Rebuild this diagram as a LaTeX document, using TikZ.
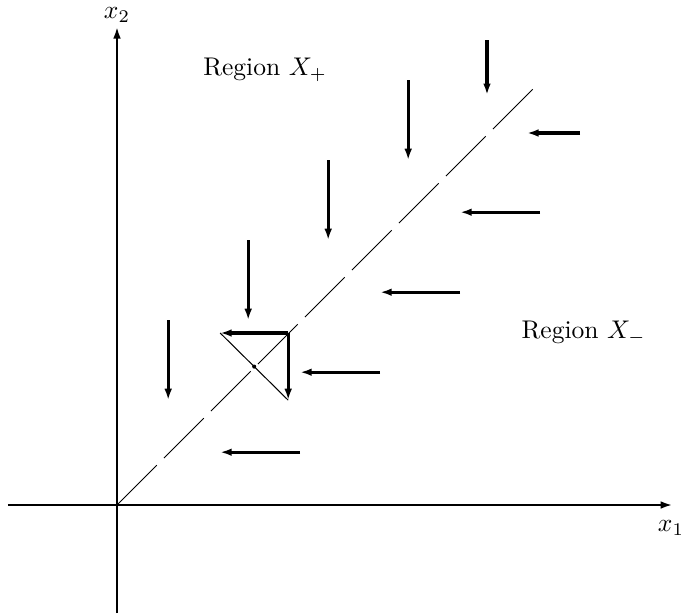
\documentclass[tikz,border=0pt]{standalone}
\usepackage{amsmath,amssymb}
\usepackage{tikz}
\usetikzlibrary{positioning,arrows.meta,calc}

\begin{document}
\begin{tikzpicture}[
  x=1.1cm,y=1.1cm,
  >={Latex[length=4.5pt,width=3pt]},
  axis/.style={->,line width=0.8pt},
  field/.style={->,line width=1.2pt},
  diag/.style={line width=0.4pt,dash pattern=on 22pt off 4pt},
  thin line/.style={line width=0.4pt},
  lab/.style={font=\normalsize,inner sep=1pt}
]
\useasboundingbox (-1.4625,-1.35) rectangle (7.0875,6.3125);

% AXES
\coordinate (O) at (0,0);
\coordinate (xl) at (-1.3625,0);
\coordinate (xr) at (6.94,0);
\coordinate (yb) at (0,-1.35);
\coordinate (yt) at (0,5.975);
\draw[axis] (xl) -- (xr);
\draw[axis] (yb) -- (yt);
\node[lab] (xone) at (6.925,-0.29) {$x_1$};
\node[lab] (xtwo) at (0,6.12) {$x_2$};

% DIAGONAL x_2 = x_1
\coordinate (dtop) at (5.28,5.28);
\draw[diag] (O) -- (dtop);

% REGION LABELS
\node[lab,anchor=west] (regplus) at (1.04,5.44) {Region $X_+$};
\node[lab,anchor=west] (regminus) at (5.02,2.15) {Region $X_-$};

% FIELD ABOVE THE DIAGONAL: pointing down
\foreach \k in {0,1,2,3}
  \draw[field] (0.64+\k,2.31+\k) -- (0.64+\k,1.31+\k);
\draw[field] (4.625,5.81) -- (4.625,5.125);

% FIELD BELOW THE DIAGONAL: pointing left
\foreach \k in {0,1,2,3}
  \draw[field] (2.29+\k,0.66+\k) -- (1.29+\k,0.66+\k);
\draw[field] (5.79,4.65) -- (5.125,4.65);

% THE CROSS ON THE DIAGONAL
\coordinate (corner) at (2.14,2.15);
\coordinate (cleft) at (1.29,2.15);
\coordinate (cbottom) at (2.14,1.31);
\draw[thin line] (cleft) -- (cbottom);
\draw[field] (corner) -- (cleft);
\draw[field] (corner) -- (cbottom);
\fill ($(cleft)!0.5!(cbottom)$) circle (0.8pt);

\end{tikzpicture}
\end{document}
